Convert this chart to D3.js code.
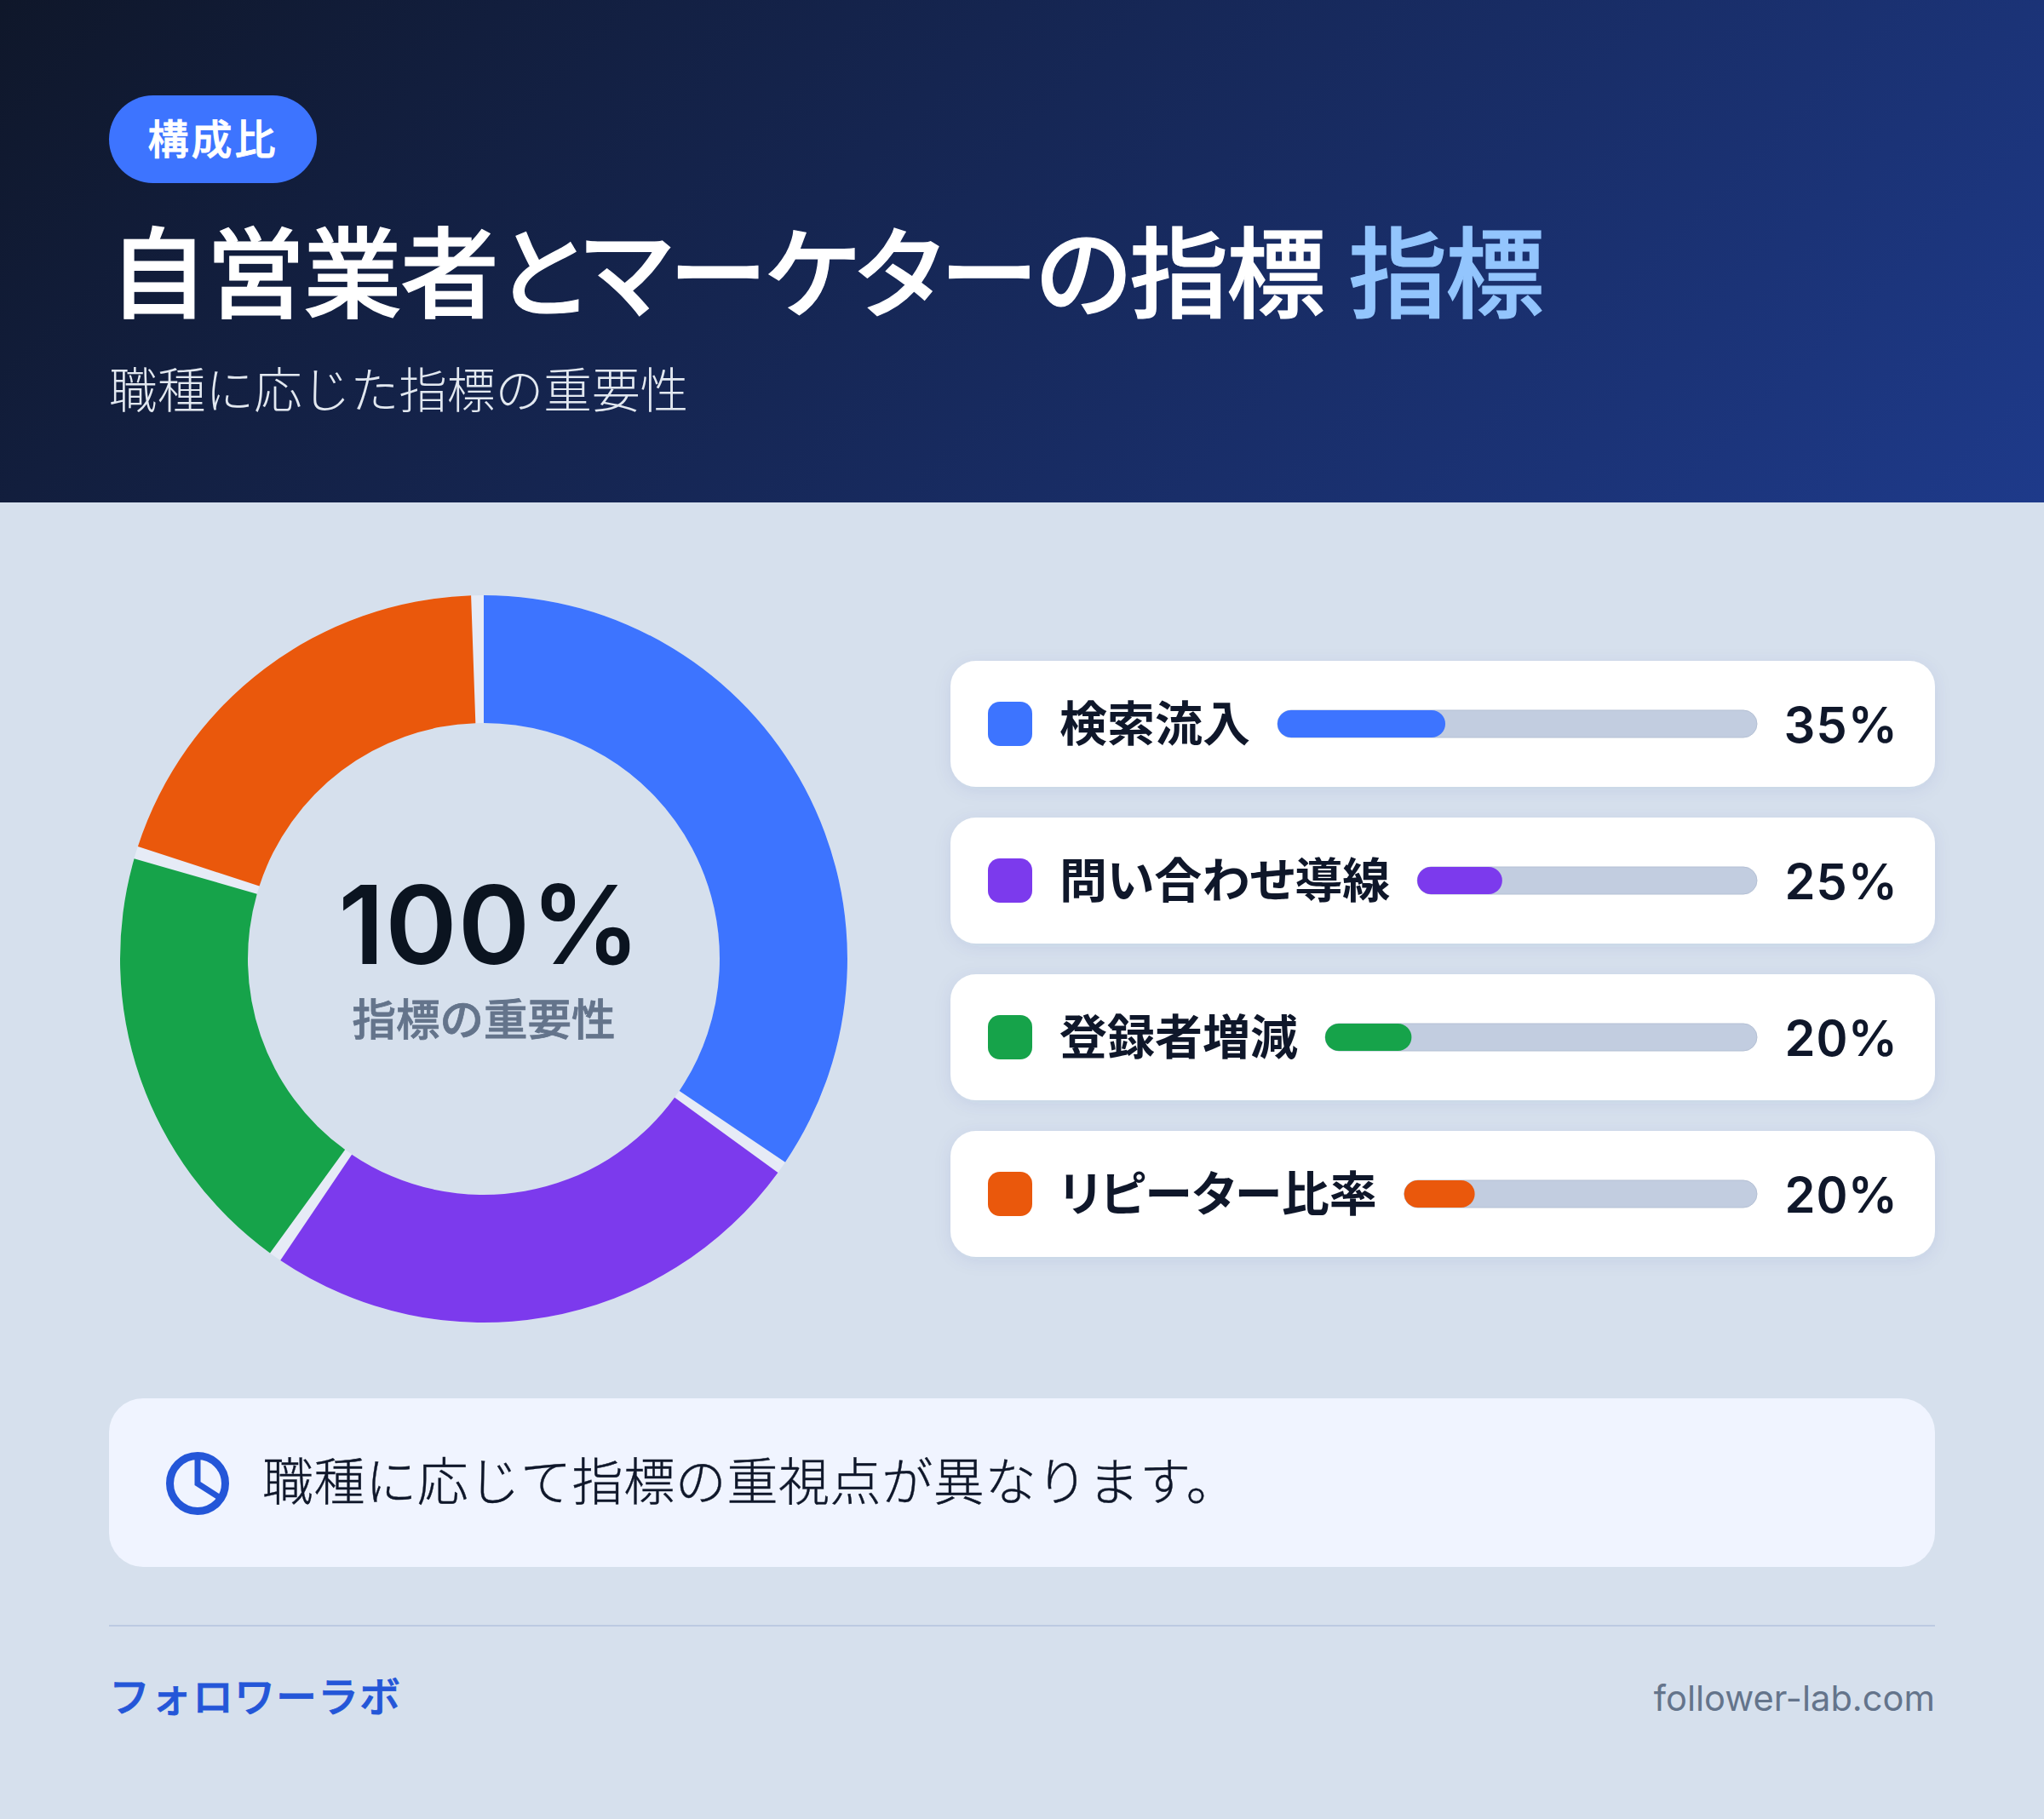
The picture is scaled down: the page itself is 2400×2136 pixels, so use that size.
<!DOCTYPE html>
<html lang="ja">
<head>
<meta charset="utf-8">
<script src="https://cdn.jsdelivr.net/npm/d3@7"></script>
<style>
  html, body { margin: 0; padding: 0; background: #d6e0ed; }
  svg { display: block; }
  text { font-family: Inter, "Noto Sans CJK JP", sans-serif; }
  .palt { font-feature-settings: "palt"; }
  .tnum { font-variant-numeric: tabular-nums; }
</style>
</head>
<body>
<div id="chart"></div>
<script>
// Chart values
var categories = ["検索流入", "問い合わせ導線", "登録者増減", "リピーター比率"];
var shareValues = [35, 25, 20, 20];
var palette = ["#3d74ff", "#7c3aed", "#16a34a", "#ea580c"];

// Texts
var badgeText = "構成比";
var titleText = "自営業者とマーケターの指標";
var titleAccent = "指標";
var subtitleText = "職種に応じた指標の重要性";
var centerValue = "100%";
var centerLabel = "指標の重要性";
var noteText = "職種に応じて指標の重視点が異なります。";
var brandText = "フォロワーラボ";
var siteText = "follower-lab.com";

var svgWidth = 2400;
var svgHeight = 2136;
var headerHeight = 590;

var svg = d3.select("#chart")
    .append("svg")
    .attr("width", svgWidth)
    .attr("height", svgHeight);

var defs = svg.append("defs");

// Header gradient, same geometry as a css 135deg gradient
var headerGrad = defs.append("linearGradient")
    .attr("id", "headerGrad")
    .attr("gradientUnits", "userSpaceOnUse")
    .attr("x1", 452.5).attr("y1", -452.5)
    .attr("x2", 1947.5).attr("y2", 1042.5);
headerGrad.append("stop").attr("offset", "0%").attr("stop-color", "#0f172a");
headerGrad.append("stop").attr("offset", "100%").attr("stop-color", "#1e3a8a");

var cardShadow = defs.append("filter")
    .attr("id", "cardShadow")
    .attr("x", "-5%").attr("y", "-20%")
    .attr("width", "110%").attr("height", "150%");
cardShadow.append("feDropShadow")
    .attr("dx", 0).attr("dy", 4)
    .attr("stdDeviation", 10)
    .attr("flood-color", "#1e3a8a")
    .attr("flood-opacity", 0.08);

// Background and header
svg.append("rect")
    .attr("width", svgWidth)
    .attr("height", svgHeight)
    .attr("fill", "#d6e0ed");

svg.append("rect")
    .attr("width", svgWidth)
    .attr("height", headerHeight)
    .attr("fill", "url(#headerGrad)");

svg.append("rect")
    .attr("x", 128).attr("y", 112)
    .attr("width", 244).attr("height", 103)
    .attr("rx", 51.5)
    .attr("fill", "#3d74ff");

svg.append("text")
    .attr("x", 250).attr("y", 181)
    .attr("text-anchor", "middle")
    .attr("font-size", 48)
    .attr("font-weight", 500)
    .attr("letter-spacing", 3)
    .attr("fill", "#ffffff")
    .attr("stroke", "#ffffff")
    .attr("stroke-width", 0.8)
    .text(badgeText);

// Medium weight with a thin outline sits closest to the reference stems
var title = svg.append("text")
    .attr("class", "palt")
    .attr("x", 128).attr("y", 364)
    .attr("font-size", 116)
    .attr("font-weight", 500)
    .attr("letter-spacing", -2)
    .attr("stroke-width", 1.2)
    .attr("fill", "#ffffff")
    .attr("stroke", "#ffffff");
title.append("tspan").text(titleText + " ");
title.append("tspan")
    .attr("fill", "#93c5fd")
    .attr("stroke", "#93c5fd")
    .text(titleAccent);

svg.append("text")
    .attr("x", 128).attr("y", 479)
    .attr("font-size", 56.7)
    .attr("font-weight", 300)
    .attr("fill", "#e2e8f0")
    .text(subtitleText);

// Donut
var cx = 568, cy = 1126, outerR = 427, innerR = 277;
var gapAngle = 2 * Math.PI / 180;

var donut = svg.append("g")
    .attr("transform", `translate(${cx}, ${cy})`);

var color = d3.scaleOrdinal(categories, palette);

var pie = d3.pie().sort(null);
var arc = d3.arc()
    .innerRadius(innerR)
    .outerRadius(outerR);

// Light ring that shows through the gaps
donut.append("path")
    .attr("d", arc({ startAngle: 0, endAngle: 2 * Math.PI }))
    .attr("fill", "#e6ebf6");

donut.selectAll("path.slice")
    .data(pie(shareValues))
    .enter()
    .append("path")
    .attr("class", "slice")
    .attr("fill", (d, i) => color(categories[i]))
    .attr("d", d => arc({ startAngle: d.startAngle, endAngle: d.endAngle - gapAngle }));

donut.append("text")
    .attr("x", 7).attr("y", 6)
    .attr("text-anchor", "middle")
    .attr("font-size", 128)
    .attr("font-weight", 600)
    .attr("letter-spacing", 1)
    .attr("fill", "#0b1420")
    .text(centerValue);

donut.append("text")
    .attr("y", 90)
    .attr("text-anchor", "middle")
    .attr("font-size", 51.5)
    .attr("font-weight", 500)
    .attr("fill", "#64748b")
    .attr("stroke", "#64748b")
    .attr("stroke-width", 0.8)
    .text(centerLabel);

// Legend rows with progress bars
var rowHeight = 148;

var rows = svg.selectAll("g.row")
    .data(categories)
    .enter()
    .append("g")
    .attr("class", "row")
    .attr("transform", d => `translate(1116, ${776 + categories.indexOf(d) * 184})`);

rows.append("rect")
    .attr("width", 1156)
    .attr("height", rowHeight)
    .attr("rx", 30)
    .attr("fill", "#ffffff")
    .attr("filter", "url(#cardShadow)");

rows.append("rect")
    .attr("x", 44).attr("y", 48)
    .attr("width", 52).attr("height", 52)
    .attr("rx", 14)
    .attr("fill", d => color(d));

var labels = rows.append("text")
    .attr("class", "palt")
    .attr("x", 128).attr("y", 94)
    .attr("font-size", 56)
    .attr("font-weight", 700)
    .attr("fill", "#0f172a")
    .text(d => d);

rows.append("text")
    .attr("class", "tnum")
    .attr("x", 1112).attr("y", 96)
    .attr("text-anchor", "end")
    .attr("font-size", 58)
    .attr("font-weight", 600)
    .attr("fill", "#0f172a")
    .text((d, i) => shareValues[i] + "%");

// Track starts right after the label, like a flex row
var trackEnd = 947;
rows.each(function(d, i) {
    var row = d3.select(this);
    var trackStart = 128 + labels.nodes()[i].getComputedTextLength() + 32;
    var x = d3.scaleLinear().domain([0, 100]).range([trackStart, trackEnd]);

    row.append("rect")
        .attr("x", x(0)).attr("y", 58)
        .attr("width", x(100) - x(0)).attr("height", 32)
        .attr("rx", 16)
        .attr("fill", "#c2cde0")
        .attr("stroke", "#b4c0d4")
        .attr("stroke-width", 1);

    row.append("rect")
        .attr("x", x(0)).attr("y", 58)
        .attr("width", x(shareValues[i]) - x(0)).attr("height", 32)
        .attr("rx", 16)
        .attr("fill", color(d));
});

// Note box
svg.append("rect")
    .attr("x", 128).attr("y", 1642)
    .attr("width", 2144).attr("height", 198)
    .attr("rx", 40)
    .attr("fill", "#f0f4ff");

var icon = svg.append("g")
    .attr("transform", "translate(232, 1742)")
    .attr("fill", "none")
    .attr("stroke", "#2456d8");
icon.append("circle").attr("r", 32.5).attr("stroke-width", 9);
icon.append("path").attr("d", "M0,-32V0L28,18").attr("stroke-width", 7);

svg.append("text")
    .attr("x", 308).attr("y", 1762)
    .attr("font-size", 60)
    .attr("font-weight", 300)
    .attr("letter-spacing", 0.6)
    .attr("fill", "#0f172a")
    .attr("stroke", "#0f172a")
    .attr("stroke-width", 0.4)
    .text(noteText);

// Footer
svg.append("line")
    .attr("x1", 128).attr("x2", 2272)
    .attr("y1", 1909).attr("y2", 1909)
    .attr("stroke", "#bccae2")
    .attr("stroke-width", 2);

svg.append("text")
    .attr("x", 128).attr("y", 2010)
    .attr("font-size", 48)
    .attr("font-weight", 500)
    .attr("letter-spacing", 1)
    .attr("fill", "#2456d8")
    .attr("stroke", "#2456d8")
    .attr("stroke-width", 0.8)
    .text(brandText);

svg.append("text")
    .attr("x", 2272).attr("y", 2009)
    .attr("text-anchor", "end")
    .attr("font-size", 41.6)
    .attr("fill", "#64748b")
    .text(siteText);
</script>
</body>
</html>
